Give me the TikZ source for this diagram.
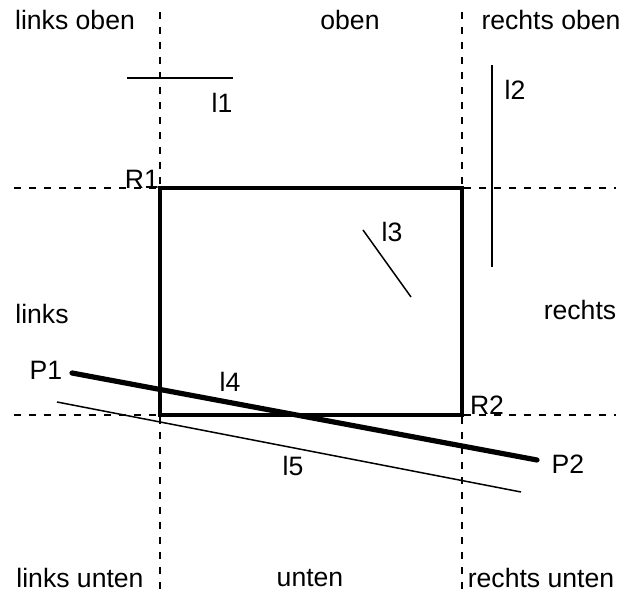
\documentclass[tikz,border=0pt]{standalone}
\usepackage{fontspec}
\setmainfont{Liberation Sans}
\begin{document}
\begin{tikzpicture}[x=0.5pt,y=-0.5pt,font=\fontsize{13.3}{15}\selectfont,
  grid/.style={dash pattern=on 3.5pt off 4pt,line width=0.6pt},
  seg/.style={line width=0.75pt},
  rect/.style={line width=2.4pt}]
\useasboundingbox (0,0) rectangle (627,597);
% region names
\node (LO) at (75,20) {links oben};
\node (O) at (350,20) {oben};
\node (RO) at (551,20) {rechts oben};
\node (L) at (42,314) {links};
\node (R) at (580,310) {rechts};
\node (LU) at (80,578) {links unten};
\node (U) at (310,578) {unten};
\node (RU) at (541,578) {rechts unten};
% clipping window
\coordinate (R1) at (160,188);
\coordinate (R2) at (462,415);
\coordinate (A1) at (160,12);  \coordinate (A2) at (160,592);
\coordinate (B1) at (462,12);  \coordinate (B2) at (462,592);
\coordinate (C1) at (14,188);  \coordinate (C2) at (616,188);
\coordinate (D1) at (14,415);  \coordinate (D2) at (616,415);
\foreach \i/\j in {A1/A2,B1/B2,C1/C2,D1/D2} {
  \draw[grid] (\i) -- (\j);
}
\draw[rect] (R1) rectangle (R2);
\node (R1t) at (142,179) {R1};
\node (R2t) at (487,405) {R2};
% lines
\coordinate (l1a) at (127,78);  \coordinate (l1b) at (233,78);
\coordinate (l2a) at (492,65);  \coordinate (l2b) at (492,267);
\coordinate (l3a) at (363,230); \coordinate (l3b) at (411,297);
\coordinate (l5a) at (57,402);  \coordinate (l5b) at (521,492);
\foreach \i/\j in {l1a/l1b,l2a/l2b,l3a/l3b,l5a/l5b} {
  \draw[seg] (\i) -- (\j);
}
\coordinate (P1) at (72,373);
\coordinate (P2) at (537,460);
\draw[line width=2.6pt,line cap=round] (P1) -- (P2);
\node (P1t) at (46,370) {P1};
\node (P2t) at (568,464) {P2};
\node (l1) at (222,103) {l1};
\node (l2) at (515,90) {l2};
\node (l3) at (392,232) {l3};
\node (l4) at (230,382) {l4};
\node (l5) at (293,466) {l5};
\end{tikzpicture}
\end{document}
